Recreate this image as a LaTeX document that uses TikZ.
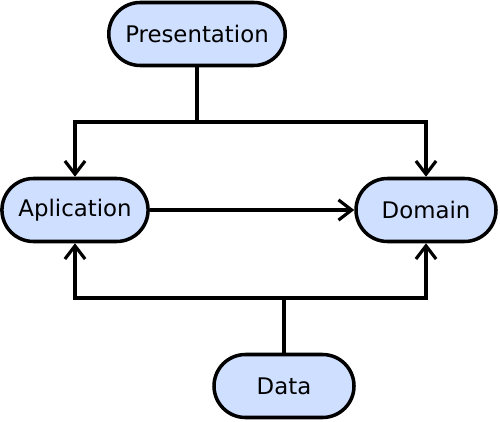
\documentclass[tikz,border=0pt]{standalone}
\usepackage{fontspec}
\setmainfont{DejaVu Sans}
\usetikzlibrary{arrows.meta, positioning, calc}
\definecolor{layerblue}{RGB}{207, 223, 255}

\begin{document}
\begin{tikzpicture}[
    every node/.style={font=\fontsize{13}{15}\selectfont},
    layer/.style={draw, line width=2pt, fill=layerblue, rounded corners=0.63cm,
      minimum height=1.26cm, minimum width=2.8cm, inner xsep=0.33cm},
    link/.style={line width=2pt, -{Straight Barb[length=7.5pt, width=11.5pt, line width=1.8pt]}}]

    \useasboundingbox (0,0) rectangle (10,-8.44);

    % Layers
    \node[layer] (pres) at (3.94,-0.68) {Presentation};
    \node[layer, minimum width=2.92cm] (apl) at (1.5,-4.2) {Aplication};
    \node[layer] (dom) at (8.52,-4.2) {Domain};
    \node[layer] (data) at (5.68,-7.72) {Data};

    % Split points
    \coordinate (topsplit) at (3.94,-2.44);
    \coordinate (botsplit) at (5.68,-5.96);

    % Presentation uses both
    \draw[line width=2pt] (pres.south) -- (topsplit);
    \draw[link] (topsplit) -| (apl.north);
    \draw[link] (topsplit) -| (dom.north);

    % Aplication uses domain
    \draw[link] (apl.east) -- (dom.west);

    % Data implements both
    \draw[line width=2pt] (data.north) -- (botsplit);
    \draw[link] (botsplit) -| (apl.south);
    \draw[link] (botsplit) -| (dom.south);

\end{tikzpicture}
\end{document}
